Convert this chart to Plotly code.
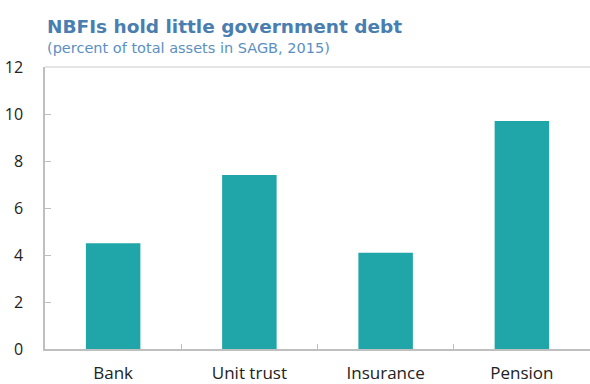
import plotly.graph_objects as go

categories = ["Bank", "Unit trust", "Insurance", "Pension"]
values = [4.5, 7.4, 4.1, 9.7]
y_ticks = [0, 2, 4, 6, 8, 10, 12]

BAR_COLOR = "#20A5A8"
TITLE_COLOR = "#4A7DB0"
AXIS_COLOR = "#BFBFBF"
TITLE_FONT = "DejaVu Sans, Verdana, sans-serif"
TICK_FONT = "Open Sans, Noto Sans, sans-serif"

fig = go.Figure(
    go.Bar(
        x=categories,
        y=values,
        marker=dict(color=BAR_COLOR, line=dict(width=0)),
    )
)

fig.update_layout(
    width=590,
    height=384,
    margin=dict(l=45, r=0, t=67, b=27),
    plot_bgcolor="white",
    paper_bgcolor="white",
    bargap=0.6,
    showlegend=False,
    font=dict(family=TICK_FONT, size=16, color="#222222"),
    annotations=[
        dict(
            text="<b>NBFIs hold little government debt</b>",
            xref="paper", yref="paper", x=0, y=1.0, yshift=28,
            xanchor="left", yanchor="bottom", align="left", showarrow=False,
            font=dict(size=18.5, color=TITLE_COLOR, family=TITLE_FONT),
        ),
        dict(
            text="(percent of total assets in SAGB, 2015)",
            xref="paper", yref="paper", x=0, y=1.0, yshift=9,
            xanchor="left", yanchor="bottom", align="left", showarrow=False,
            font=dict(size=14.5, color="#5B8FC2", family=TITLE_FONT),
        ),
    ],
    shapes=[
        dict(type="line", xref="paper", yref="paper", x0=0, x1=1, y0=1, y1=1,
             line=dict(color="#DCDCDC", width=1.5)),
    ],
)

fig.update_xaxes(
    showline=True,
    linecolor=AXIS_COLOR,
    linewidth=1.5,
    ticks="inside",
    tickson="boundaries",
    ticklen=5,
    tickcolor=AXIS_COLOR,
    showgrid=False,
    ticklabelstandoff=8,
    tickfont=dict(size=17, color="#222222"),
)

fig.update_yaxes(
    range=[0, 12],
    tickvals=y_ticks,
    showline=True,
    linecolor=AXIS_COLOR,
    linewidth=1.5,
    ticks="inside",
    ticklen=6,
    tickcolor=AXIS_COLOR,
    showgrid=False,
    zeroline=False,
    ticklabelstandoff=17,
    tickfont=dict(size=16, color="#222222"),
)

# drop the default body margin so the 590x384 figure fills the window exactly
fig.write_html(
    "out.html",
    config={"displayModeBar": False},
    post_script="document.body.style.margin='0';document.body.style.overflow='hidden';",
)
